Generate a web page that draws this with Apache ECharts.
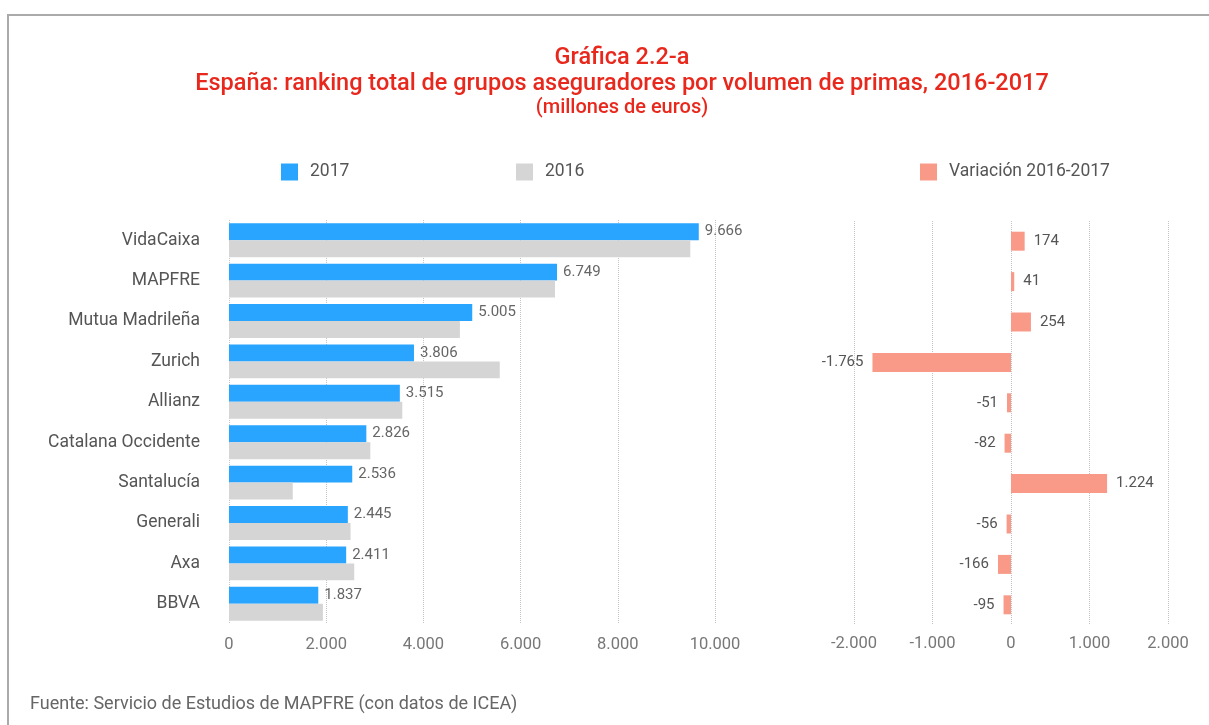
<!DOCTYPE html>
<html>
<head>
<meta charset="utf-8">
<script src="https://cdn.jsdelivr.net/npm/echarts@6/dist/echarts.min.js"></script>
<style>
html,body{margin:0;padding:0;background:#fff;}
#main{width:1209px;height:725px;}
</style>
</head>
<body>
<div id="main"></div>
<script>
const categories = ['VidaCaixa','MAPFRE','Mutua Madrileña','Zurich','Allianz','Catalana Occidente','Santalucía','Generali','Axa','BBVA'];
const values2017 = [9666, 6749, 5005, 3806, 3515, 2826, 2536, 2445, 2411, 1837];
const values2016 = [9492, 6708, 4751, 5571, 3566, 2908, 1312, 2501, 2577, 1932];
const variation = [174, 41, 254, -1765, -51, -82, 1224, -56, -166, -95];
const leftTicks = [0, 2000, 4000, 6000, 8000, 10000];
const rightTicks = [-2000, -1000, 0, 1000, 2000];

const FONT = 'Roboto, "Noto Sans", sans-serif';
function fmt(v){
  const neg = v < 0;
  let s = String(Math.abs(Math.round(v)));
  s = s.replace(/\B(?=(\d{3})+(?!\d))/g, '.');
  return (neg ? '-' : '') + s;
}

const chart = echarts.init(document.getElementById('main'));
const gridLine = {show:true, lineStyle:{type:'dotted', color:'#c4c4c4', width:1}};
const legendText = {fontSize:17.5, color:'#555', padding:[0,0,0,7]};
const option = {
  backgroundColor:'#fff',
  animation:false,
  textStyle:{fontFamily:FONT},
  graphic:[
    {type:'line', shape:{x1:7,y1:15,x2:1209,y2:15}, style:{stroke:'#aaaaaa', lineWidth:2}},
    {type:'line', shape:{x1:8,y1:15,x2:8,y2:725}, style:{stroke:'#aaaaaa', lineWidth:2}},
    {type:'text', x:622, y:58, style:{text:'Gráfica 2.2-a', fill:'#e8281c', font:'500 23.5px '+FONT, textAlign:'center', textVerticalAlign:'middle'}},
    {type:'text', x:622, y:84, style:{text:'España: ranking total de grupos aseguradores por volumen de primas, 2016-2017', fill:'#e8281c', font:'500 23.5px '+FONT, textAlign:'center', textVerticalAlign:'middle'}},
    {type:'text', x:622, y:108, style:{text:'(millones de euros)', fill:'#e8281c', font:'500 20px '+FONT, textAlign:'center', textVerticalAlign:'middle'}},
    {type:'text', x:30, y:704, style:{text:'Fuente: Servicio de Estudios de MAPFRE (con datos de ICEA)', fill:'#666666', font:'18px '+FONT, textAlign:'left', textVerticalAlign:'middle'}}
  ],
  legend:[
    {data:['2017'], left:281, top:163, itemWidth:17, itemHeight:17, icon:'rect', padding:0, textStyle:legendText},
    {data:['2016'], left:516, top:163, itemWidth:17, itemHeight:17, icon:'rect', padding:0, textStyle:legendText},
    {data:['Variación 2016-2017'], left:920, top:163, itemWidth:17, itemHeight:17, icon:'rect', padding:0, textStyle:legendText}
  ],
  grid:[
    {left:229, right:1209-715, top:220, height:404},
    {left:854, right:1209-1168, top:221, height:404}
  ],
  xAxis:[
    {type:'value', gridIndex:0, min:leftTicks[0], max:leftTicks[leftTicks.length-1], interval:2000,
     axisLine:{show:false}, axisTick:{show:false}, splitLine:gridLine,
     axisLabel:{color:'#777', fontSize:16.5, margin:12, formatter:fmt}},
    {type:'value', gridIndex:1, min:rightTicks[0], max:rightTicks[rightTicks.length-1], interval:1000,
     axisLine:{show:false}, axisTick:{show:false}, splitLine:gridLine,
     axisLabel:{color:'#777', fontSize:16.5, margin:10, formatter:fmt}}
  ],
  yAxis:[
    {type:'category', gridIndex:0, data:categories, inverse:true,
     axisLine:{show:false}, axisTick:{show:false},
     axisLabel:{color:'#555', fontSize:17.5, margin:29}},
    {type:'category', gridIndex:1, data:categories, inverse:true,
     axisLine:{show:false}, axisTick:{show:false}, axisLabel:{show:false}}
  ],
  series:[
    {name:'2017', type:'bar', xAxisIndex:0, yAxisIndex:0, data:values2017,
     barGap:'0%', barCategoryGap:'16%', itemStyle:{color:'#29a4ff'},
     label:{show:true, position:'right', distance:6, color:'#666', fontSize:15, formatter:p=>fmt(p.value)}},
    {name:'2016', type:'bar', xAxisIndex:0, yAxisIndex:0, data:values2016,
     barGap:'0%', barCategoryGap:'16%', itemStyle:{color:'#d5d5d5'}},
    {name:'Variación 2016-2017', type:'bar', xAxisIndex:1, yAxisIndex:1,
     data:variation.map(v=>({value:v, label:{position: v<0?'left':'right'}})),
     barWidth:19, itemStyle:{color:'#f99a89'},
     label:{show:true, distance:9, color:'#555', fontSize:15, formatter:p=>fmt(p.value)}}
  ]
};
chart.setOption(option);
</script>
</body>
</html>
